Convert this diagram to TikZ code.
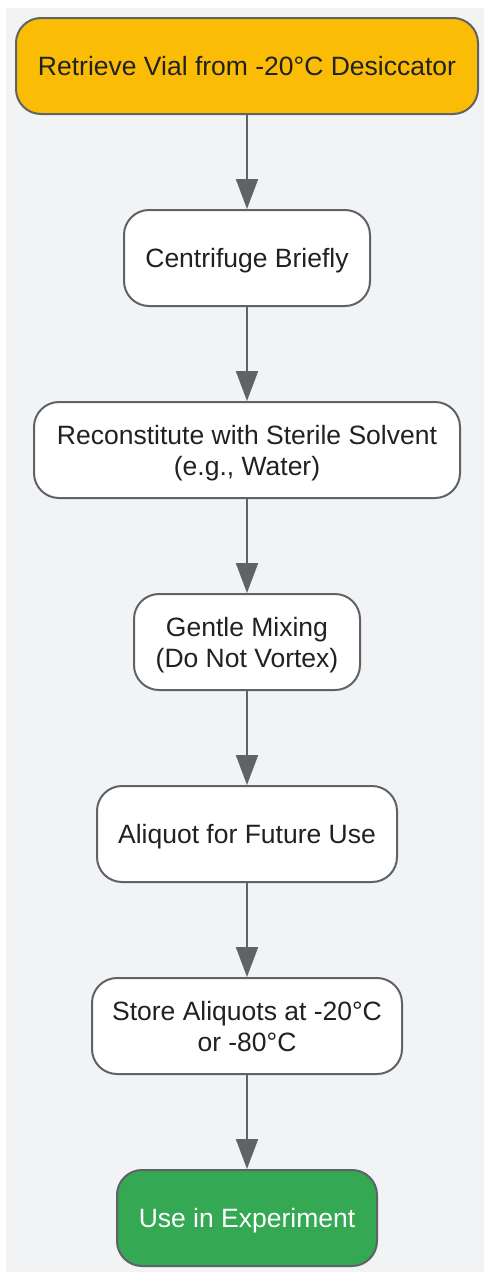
\documentclass[tikz,border=0pt]{standalone}
\usepackage{fontspec}
\setmainfont{Liberation Sans}
\usetikzlibrary{arrows.meta}
\definecolor{bggray}{HTML}{F1F3F4}
\definecolor{edgegray}{HTML}{5F6368}
\definecolor{txt}{HTML}{202124}
\definecolor{ylw}{HTML}{FBBC05}
\definecolor{grn}{HTML}{34A853}
\tikzset{
  x=1pt,y=1pt,
  stepbox/.style={draw=edgegray, line width=2pt, rounded corners=25pt, fill=white,
    minimum height=96pt, inner sep=0pt, align=center, text=txt, text depth=0pt,
    font=\fontsize{26.5}{31}\selectfont},
  flow/.style={draw=edgegray, line width=2pt, -{Triangle[length=30pt,width=22pt]}},
}
\begin{document}
\begin{tikzpicture}
\fill[white] (0,0) rectangle (484,-1272);
\fill[bggray] (6,-8) rectangle (484,-1272);
\useasboundingbox (0,0) rectangle (484,-1272);
\node[stepbox, fill=ylw, minimum width=462pt] (n1) at (247,-66) {Retrieve Vial from -20°C Desiccator};
\node[stepbox, minimum width=246pt] (n2) at (247,-258) {Centrifuge Briefly};
\node[stepbox, minimum width=426pt] (n3) at (247,-450) {Reconstitute with Sterile Solvent\\(e.g., Water)};
\node[stepbox, minimum width=226pt] (n4) at (247,-642) {Gentle Mixing\\(Do Not Vortex)};
\node[stepbox, minimum width=300pt] (n5) at (247,-834) {Aliquot for Future Use};
\node[stepbox, minimum width=310pt] (n6) at (247,-1026) {Store Aliquots at -20°C\\or -80°C};
\node[stepbox, fill=grn, text=white, minimum width=260pt] (n7) at (247,-1218) {Use in Experiment};
\draw[flow] (n1) -- (n2);
\draw[flow] (n2) -- (n3);
\draw[flow] (n3) -- (n4);
\draw[flow] (n4) -- (n5);
\draw[flow] (n5) -- (n6);
\draw[flow] (n6) -- (n7);
\end{tikzpicture}
\end{document}
